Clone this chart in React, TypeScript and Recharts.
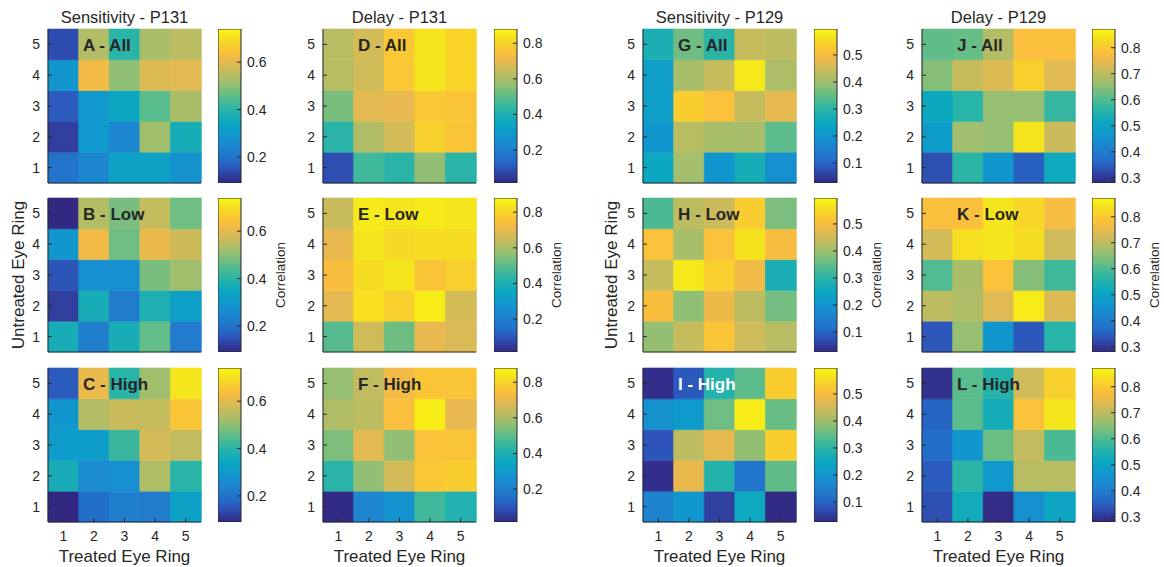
import { BarChart, Bar, Cell, XAxis, YAxis } from 'recharts';

const INK = '#262626';
const FONT = '"Liberation Sans", Arial, Helvetica, sans-serif';

const RINGS = ['1', '2', '3', '4', '5'];
const ROW_TICKS = [0.5, 1.5, 2.5, 3.5, 4.5];

// grids: top row = untreated ring 5 ... bottom row = ring 1; columns = treated ring 1..5
const sensP131All = [
  [0.14, 0.54, 0.4, 0.53, 0.55],
  [0.29, 0.62, 0.5, 0.59, 0.595],
  [0.16, 0.3, 0.34, 0.45, 0.53],
  [0.12, 0.3, 0.25, 0.52, 0.37],
  [0.2, 0.25, 0.33, 0.33, 0.28],
];
const sensP131Low = [
  [0.09, 0.54, 0.48, 0.56, 0.47],
  [0.29, 0.62, 0.47, 0.61, 0.57],
  [0.15, 0.27, 0.27, 0.48, 0.52],
  [0.12, 0.37, 0.22, 0.38, 0.32],
  [0.37, 0.23, 0.37, 0.46, 0.22],
];
const sensP131High = [
  [0.16, 0.61, 0.4, 0.52, 0.71],
  [0.29, 0.54, 0.565, 0.56, 0.65],
  [0.31, 0.31, 0.42, 0.58, 0.555],
  [0.37, 0.26, 0.27, 0.535, 0.4],
  [0.09, 0.19, 0.23, 0.22, 0.33],
];
const delayP131All = [
  [0.62, 0.665, 0.77, 0.84, 0.8],
  [0.62, 0.66, 0.77, 0.84, 0.8],
  [0.535, 0.69, 0.7, 0.77, 0.76],
  [0.43, 0.61, 0.665, 0.79, 0.76],
  [0.085, 0.46, 0.43, 0.565, 0.43],
];
const delayP131Low = [
  [0.645, 0.85, 0.84, 0.85, 0.84],
  [0.7, 0.84, 0.81, 0.82, 0.82],
  [0.74, 0.82, 0.84, 0.76, 0.79],
  [0.69, 0.83, 0.79, 0.86, 0.665],
  [0.49, 0.66, 0.52, 0.7, 0.675],
];
const delayP131High = [
  [0.57, 0.635, 0.72, 0.76, 0.76],
  [0.61, 0.63, 0.745, 0.86, 0.7],
  [0.54, 0.69, 0.565, 0.755, 0.76],
  [0.43, 0.565, 0.665, 0.77, 0.78],
  [0.02, 0.22, 0.27, 0.46, 0.41],
];
const sensP129All = [
  [0.277, 0.36, 0.3, 0.44, 0.43],
  [0.225, 0.41, 0.44, 0.575, 0.415],
  [0.225, 0.53, 0.51, 0.44, 0.475],
  [0.2, 0.425, 0.41, 0.41, 0.345],
  [0.25, 0.405, 0.2, 0.27, 0.185],
];
const sensP129Low = [
  [0.33, 0.43, 0.445, 0.53, 0.37],
  [0.51, 0.41, 0.51, 0.565, 0.5],
  [0.44, 0.575, 0.535, 0.49, 0.275],
  [0.505, 0.385, 0.485, 0.43, 0.365],
  [0.39, 0.44, 0.515, 0.45, 0.425],
];
const sensP129High = [
  [0.035, 0.085, 0.29, 0.345, 0.53],
  [0.19, 0.215, 0.36, 0.58, 0.355],
  [0.08, 0.43, 0.475, 0.39, 0.53],
  [0.035, 0.48, 0.29, 0.13, 0.35],
  [0.16, 0.205, 0.055, 0.255, 0.03],
];
const delayP129All = [
  [0.615, 0.62, 0.69, 0.78, 0.78],
  [0.645, 0.71, 0.735, 0.81, 0.74],
  [0.515, 0.56, 0.66, 0.66, 0.575],
  [0.48, 0.67, 0.66, 0.845, 0.715],
  [0.33, 0.565, 0.46, 0.35, 0.52],
];
const delayP129Low = [
  [0.78, 0.78, 0.845, 0.82, 0.77],
  [0.725, 0.835, 0.845, 0.83, 0.72],
  [0.6, 0.68, 0.785, 0.645, 0.585],
  [0.7, 0.685, 0.74, 0.855, 0.735],
  [0.34, 0.66, 0.46, 0.34, 0.56],
];
const delayP129High = [
  [0.29, 0.61, 0.555, 0.72, 0.81],
  [0.355, 0.61, 0.53, 0.785, 0.845],
  [0.37, 0.46, 0.625, 0.705, 0.595],
  [0.345, 0.565, 0.47, 0.695, 0.695],
  [0.33, 0.525, 0.285, 0.445, 0.505],
];

// colour scale limits and colorbar ticks per column
const sensP131Range = [0.09, 0.74];
const sensP131Ticks = [0.2, 0.4, 0.6];
const delayP131Range = [0.015, 0.88];
const delayP131Ticks = [0.2, 0.4, 0.6, 0.8];
const sensP129Range = [0.026, 0.596];
const sensP129Ticks = [0.1, 0.2, 0.3, 0.4, 0.5];
const delayP129Range = [0.28, 0.872];
const delayP129Ticks = [0.3, 0.4, 0.5, 0.6, 0.7, 0.8];

const COLUMN_TITLES = ['Sensitivity - P131', 'Delay - P131', 'Sensitivity - P129', 'Delay - P129'];
const ROW_NAMES = ['All', 'Low', 'High'];
const LETTERS = ['A', 'B', 'C', 'D', 'E', 'F', 'G', 'H', 'I', 'J', 'K', 'L'];

// parula key colours (blue end toned down a little to match the scan)
const PARULA: [number, number, number, number][] = [
  [0, 50, 40, 130],
  [0.095, 45, 85, 185],
  [0.143, 35, 108, 200],
  [0.238, 30, 133, 208],
  [0.317, 15, 152, 205],
  [0.397, 12, 168, 192],
  [0.476, 40, 180, 168],
  [0.556, 89, 188, 140],
  [0.635, 146, 191, 115],
  [0.714, 192, 188, 96],
  [0.794, 233, 185, 78],
  [0.841, 250, 190, 61],
  [0.905, 248, 211, 42],
  [0.952, 245, 228, 29],
  [1, 249, 248, 18],
];

function parula(t: number) {
  const c = Math.max(0, Math.min(1, t));
  for (let i = 1; i < PARULA.length; i++) {
    const a = PARULA[i - 1];
    const b = PARULA[i];
    if (c <= b[0]) {
      const f = (c - a[0]) / (b[0] - a[0]);
      const m = (k: number) => Math.round(a[k] + (b[k] - a[k]) * f);
      return `rgb(${m(1)},${m(2)},${m(3)})`;
    }
  }
  return 'rgb(249,248,18)';
}

const PLOT_W = 153;
const PLOT_H = 154;
const COL_X = [48, 323, 643, 922];
const CB_X = [218, 494, 814, 1092];
const ROW_Y = [29, 198, 368];

interface HeatProps {
  grid: number[][];
  range: number[];
  left: number;
  top: number;
  showX: boolean;
}

function Heatmap({ grid, range, left, top, showX }: HeatProps) {
  const data = RINGS.map((r) => ({ ring: r, u1: 1, u2: 1, u3: 1, u4: 1, u5: 1 }));
  const colour = (v: number) => parula((v - range[0]) / (range[1] - range[0]));
  const axisStyle = { stroke: INK, strokeWidth: 1 };
  return (
    <div style={{ position: 'absolute', left: left - 40, top: top - 10 }}>
      <BarChart
        width={PLOT_W + 50}
        height={PLOT_H + 50}
        data={data}
        margin={{ top: 10, right: 10, bottom: 0, left: 0 }}
        barCategoryGap={0}
        barGap={0}
      >
        <XAxis
          xAxisId="b"
          dataKey="ring"
          orientation="bottom"
          height={40}
          tickSize={-4}
          tickMargin={13}
          tick={showX ? { fill: INK, fontSize: 14, fontFamily: FONT } : false}
          axisLine={axisStyle}
          tickLine={axisStyle}
        />
        <XAxis
          xAxisId="t"
          dataKey="ring"
          orientation="top"
          height={0}
          tickSize={-4}
          tick={false}
          axisLine={axisStyle}
          tickLine={axisStyle}
        />
        <YAxis
          yAxisId="l"
          type="number"
          domain={[0, 5]}
          ticks={ROW_TICKS}
          tickFormatter={(v) => String(v + 0.5)}
          width={40}
          tickSize={-4}
          tickMargin={12}
          tick={{ fill: INK, fontSize: 14, fontFamily: FONT }}
          axisLine={axisStyle}
          tickLine={axisStyle}
        />
        <YAxis
          yAxisId="r"
          orientation="right"
          type="number"
          domain={[0, 5]}
          ticks={ROW_TICKS}
          width={0}
          tickSize={-4}
          tick={false}
          axisLine={axisStyle}
          tickLine={axisStyle}
        />
        {[1, 2, 3, 4, 5].map((k) => (
          <Bar
            key={k}
            dataKey={`u${k}`}
            stackId="s"
            xAxisId="b"
            yAxisId="l"
            isAnimationActive={false}
          >
            {RINGS.map((r, ci) => {
              const fill = colour(grid[5 - k][ci]);
              return <Cell key={r} fill={fill} stroke={fill} strokeWidth={0.6} />;
            })}
          </Bar>
        ))}
      </BarChart>
    </div>
  );
}

function Colorbar({ range, ticks, left, top, id }: { range: number[]; ticks: number[]; left: number; top: number; id: string }) {
  return (
    <div style={{ position: 'absolute', left, top: top - 10 }}>
      <BarChart
        width={23 + 40}
        height={PLOT_H + 20}
        data={[{ k: 'c', v: [range[0], range[1]] }]}
        margin={{ top: 10, right: 0, bottom: 10, left: 0 }}
        barCategoryGap={0}
      >
        <defs>
          <linearGradient id={id} x1="0" y1="1" x2="0" y2="0">
            {PARULA.map((p) => (
              <stop key={p[0]} offset={p[0]} stopColor={`rgb(${p[1]},${p[2]},${p[3]})`} />
            ))}
          </linearGradient>
        </defs>
        <XAxis dataKey="k" hide />
        <YAxis
          orientation="right"
          type="number"
          domain={range}
          allowDataOverflow
          ticks={ticks}
          width={40}
          tickSize={-4}
          tickMargin={10}
          axisLine={false}
          tick={{ fill: INK, fontSize: 14, fontFamily: FONT }}
          tickLine={{ stroke: INK }}
        />
        <Bar dataKey="v" fill={`url(#${id})`} stroke={INK} strokeWidth={1} isAnimationActive={false} />
      </BarChart>
    </div>
  );
}

const text = (extra: React.CSSProperties): React.CSSProperties => ({
  position: 'absolute',
  fontFamily: FONT,
  color: INK,
  whiteSpace: 'nowrap',
  ...extra,
});

export default function App() {
  const columns = [
    { grids: [sensP131All, sensP131Low, sensP131High], range: sensP131Range, ticks: sensP131Ticks },
    { grids: [delayP131All, delayP131Low, delayP131High], range: delayP131Range, ticks: delayP131Ticks },
    { grids: [sensP129All, sensP129Low, sensP129High], range: sensP129Range, ticks: sensP129Ticks },
    { grids: [delayP129All, delayP129Low, delayP129High], range: delayP129Range, ticks: delayP129Ticks },
  ];
  return (
    <div style={{ position: 'absolute', left: 0, top: 0, width: 1164, height: 567, background: '#fff', overflow: 'hidden' }}>
      {columns.map((col, ci) => (
        <div key={ci}>
          <div style={text({ left: COL_X[ci] + PLOT_W / 2, top: 17, fontSize: 16.5, transform: 'translate(-50%, -50%)' })}>
            {COLUMN_TITLES[ci]}
          </div>
          {col.grids.map((g, ri) => (
            <div key={ri}>
              <Heatmap grid={g} range={col.range} left={COL_X[ci]} top={ROW_Y[ri]} showX={ri === 2} />
              <Colorbar range={col.range} ticks={col.ticks} left={CB_X[ci]} top={ROW_Y[ri]} id={`cb${ci}${ri}`} />
              <div
                style={text({
                  left: COL_X[ci] + 35,
                  top: ROW_Y[ri] + 17,
                  fontSize: 17,
                  fontWeight: 'bold',
                  transform: 'translateY(-50%)',
                  color: ci === 2 && ri === 2 ? '#ffffff' : INK,
                })}
              >
                {`${LETTERS[ci * 3 + ri]} - ${ROW_NAMES[ri]}`}
              </div>
            </div>
          ))}
          <div style={text({ left: COL_X[ci] + PLOT_W / 2, top: 557, fontSize: 17, transform: 'translate(-50%, -50%)' })}>
            Treated Eye Ring
          </div>
          <div style={text({ left: CB_X[ci] + 62, top: 275, fontSize: 13.5, transform: 'translate(-50%, -50%) rotate(-90deg)' })}>
            Correlation
          </div>
        </div>
      ))}
      <div style={text({ left: 19, top: 275, fontSize: 17, transform: 'translate(-50%, -50%) rotate(-90deg)' })}>
        Untreated Eye Ring
      </div>
      <div style={text({ left: 612, top: 275, fontSize: 17, transform: 'translate(-50%, -50%) rotate(-90deg)' })}>
        Untreated Eye Ring
      </div>
    </div>
  );
}
